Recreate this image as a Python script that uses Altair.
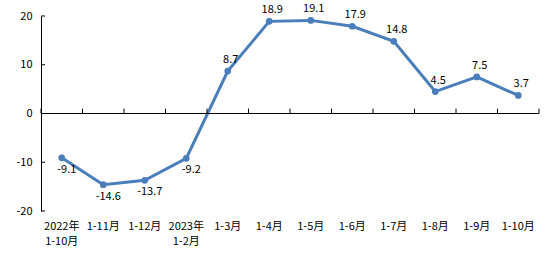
import altair as alt
import pandas as pd

categories = ["2022年\n1-10月", "1-11月", "1-12月", "2023年\n1-2月", "1-3月", "1-4月",
              "1-5月", "1-6月", "1-7月", "1-8月", "1-9月", "1-10月"]
values = [-9.1, -14.6, -13.7, -9.2, 8.7, 18.9, 19.1, 17.9, 14.8, 4.5, 7.5, 3.7]
y_ticks = [-20, -10, 0, 10, 20]

df = pd.DataFrame({"cat": categories, "v": values})
tick_df = pd.DataFrame({"t": y_ticks})

W, H = 498, 195
FONT = "Noto Sans CJK SC"
BLUE = "#4A7EBB"
MINUS_FIX = "replace({}, '\u2212', '-')"

xscale = alt.Scale(type="band", domain=categories, paddingInner=0, paddingOuter=0)
yscale = alt.Scale(domain=[-20, 20], nice=False, zero=False)

base = alt.Chart(df)

x_bottom = alt.X("cat:N", sort=categories, scale=xscale, title=None,
                 axis=alt.Axis(orient="bottom", domain=False, ticks=False, tickSize=0,
                               labelAngle=0, labelFont=FONT, labelFontSize=11,
                               labelColor="#000000", labelPadding=9, labelLineHeight=15,
                               labelBaseline="top",
                               labelExpr="split(datum.label, '\\n')"))
y_left = alt.Y("v:Q", scale=yscale, title=None,
               axis=alt.Axis(orient="left", values=y_ticks, domain=True, domainColor="#000000",
                             domainWidth=1, ticks=False, tickSize=0, grid=False,
                             labelFont=FONT, labelFontSize=11, labelColor="#000000",
                             labelPadding=9,
                             labelExpr=MINUS_FIX.format("datum.label")))

x_none = alt.X("cat:N", sort=categories, scale=xscale, axis=None)
y_none = alt.Y("v:Q", scale=yscale, axis=None)

guide = base.transform_calculate(zero="0", one="1")

# zero line acting as the category axis
zero_line = guide.mark_rule(color="#000000", strokeWidth=1).encode(
    y=alt.Y("zero:Q", scale=yscale, axis=None), x=alt.value(0), x2=alt.value(W))

# category ticks at band boundaries, pointing up from the zero line
cat_ticks = guide.mark_rule(color="#000000", strokeWidth=1).encode(
    x=alt.X("cat:N", sort=categories, scale=xscale, axis=None, bandPosition=0),
    y=alt.Y("zero:Q", scale=yscale, axis=None), y2="one:Q")
end_tick = guide.transform_filter(alt.datum.cat == categories[-1]).mark_rule(
    color="#000000", strokeWidth=1).encode(
    x=alt.X("cat:N", sort=categories, scale=xscale, axis=None, bandPosition=1),
    y=alt.Y("zero:Q", scale=yscale, axis=None), y2="one:Q")

# value-axis ticks pointing inward
val_ticks = alt.Chart(tick_df).mark_rule(color="#000000", strokeWidth=1).encode(
    y=alt.Y("t:Q", scale=yscale, axis=None), x=alt.value(0), x2=alt.value(4))

line = base.mark_line(color=BLUE, strokeWidth=3).encode(x=x_bottom, y=y_left)
points = base.mark_point(filled=True, color=BLUE, size=45, opacity=1).encode(x=x_none, y=y_none)

text_pos = base.transform_filter("datum.v >= 0").transform_calculate(
    lbl=MINUS_FIX.format("format(datum.v, '.1f')")
).mark_text(font=FONT, fontSize=11, color="#000000", dy=-11, dx=3, baseline="middle"
).encode(x=x_none, y=y_none, text="lbl:N")
text_neg = base.transform_filter("datum.v < 0").transform_calculate(
    lbl=MINUS_FIX.format("format(datum.v, '.1f')")
).mark_text(font=FONT, fontSize=11, color="#000000", dy=12, dx=5, baseline="middle"
).encode(x=x_none, y=y_none, text="lbl:N")

chart = alt.layer(line, zero_line, cat_ticks, end_tick, val_ticks, points,
                  text_pos, text_neg).resolve_axis(
    x="independent", y="independent"
).properties(
    width=W, height=H,
    autosize=alt.AutoSizeParams(type="none"),
    padding={"left": 41, "top": 16, "right": 15, "bottom": 47},
    background="#ffffff",
).configure_view(stroke=None)

chart.save("out.html", embed_options={"renderer": "svg", "actions": False})
